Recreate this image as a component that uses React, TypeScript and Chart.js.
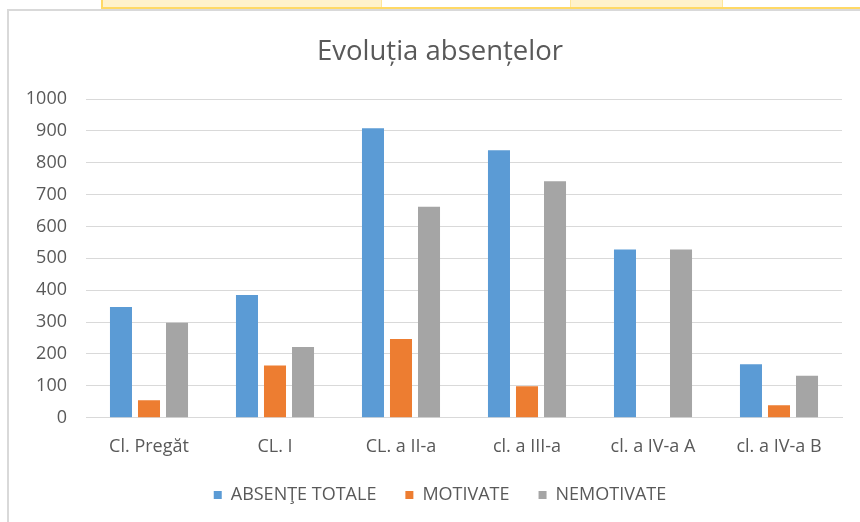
import React, { useEffect, useRef } from "react";
import { Chart, registerables } from "chart.js";

Chart.register(...registerables);

const titleText = "Evoluția absențelor";
const categories = ["Cl. Pregăt", "CL. I", "CL. a II-a", "cl. a III-a", "cl. a IV-a A", "cl. a IV-a B"];
const seriesNames = ["ABSENŢE TOTALE", "MOTIVATE", "NEMOTIVATE"];
const absenteTotale = [347, 385, 908, 839, 528, 168];
const motivate = [55, 164, 247, 99, 0, 39];
const nemotivate = [298, 222, 662, 742, 528, 132];
const seriesColors = ["#5B9BD5", "#ED7D31", "#A5A5A5"];
const yMin = 0;
const yMax = 1000;
const yStep = 100;

const FONT = "'Open Sans', 'Noto Sans', sans-serif";
const TEXT = "#595959";

export default function App() {
  const ref = useRef<HTMLCanvasElement | null>(null);

  useEffect(() => {
    if (!ref.current) return;
    const values = [absenteTotale, motivate, nemotivate];
    const chart = new Chart(ref.current, {
      type: "bar",
      data: {
        labels: categories,
        datasets: values.map((v, i) => ({
          label: seriesNames[i],
          data: v,
          backgroundColor: seriesColors[i],
          borderWidth: 0,
          categoryPercentage: 0.667,
          barPercentage: 0.786,
        })),
      },
      options: {
        responsive: false,
        animation: false,
        maintainAspectRatio: false,
        layout: { padding: { left: 0, right: 0, top: 0, bottom: 8 } },
        plugins: {
          title: {
            display: true,
            text: titleText,
            color: TEXT,
            font: { family: FONT, size: 27.5, weight: "normal", lineHeight: 1.2 },
            padding: { top: 24.5, bottom: 30.5 },
          },
          legend: {
            display: true,
            position: "bottom",
            labels: {
              color: TEXT,
              font: { family: FONT, size: 18, lineHeight: 1.2 },
              boxWidth: 8,
              boxHeight: 8,
              padding: 29,
            },
          },
          tooltip: { enabled: false },
        },
        scales: {
          x: {
            grid: { display: false, drawTicks: false },
            border: { display: true, color: "#D9D9D9", width: 1 },
            ticks: {
              color: TEXT,
              font: { family: FONT, size: 18, lineHeight: 1.2 },
              padding: 18.5,
              maxRotation: 0,
              autoSkip: false,
            },
            afterFit: (s: any) => {
              s.height = 39.3;
            },
          },
          y: {
            min: yMin,
            max: yMax,
            grid: { color: "#D9D9D9", lineWidth: 1, drawTicks: false },
            border: { display: false },
            ticks: {
              stepSize: yStep,
              color: TEXT,
              font: { family: FONT, size: 18, lineHeight: 1.2 },
              padding: 19,
              callback: (v: any) => String(v),
            },
            afterFit: (s: any) => {
              s.width = 77;
            },
          },
          yRight: {
            position: "right",
            display: true,
            grid: { display: false, drawTicks: false },
            border: { display: false },
            ticks: { display: false },
            afterFit: (s: any) => {
              s.width = 29;
            },
          },
        },
      },
    } as any);
    return () => chart.destroy();
  }, []);

  return (
    <div
      style={{
        position: "fixed",
        left: 0,
        top: 0,
        width: 860,
        height: 522,
        overflow: "hidden",
        background: "#ffffff",
      }}
    >
      <div style={{ position: "absolute", left: 101, top: 0, width: 280, height: 8, background: "#FFF2CC" }} />
      <div style={{ position: "absolute", left: 570, top: 0, width: 152, height: 8, background: "#FFF2CC" }} />
      <div style={{ position: "absolute", left: 101, top: 0, width: 2, height: 9, background: "#FFD966" }} />
      <div style={{ position: "absolute", left: 381, top: 0, width: 1, height: 9, background: "#FFE699" }} />
      <div style={{ position: "absolute", left: 570, top: 0, width: 1, height: 9, background: "#FFE699" }} />
      <div style={{ position: "absolute", left: 722, top: 0, width: 1, height: 9, background: "#FFE699" }} />
      <div
        style={{
          position: "absolute",
          left: 7,
          top: 9,
          width: 900,
          height: 600,
          borderLeft: "2px solid #D9D9D9",
          borderTop: "2px solid #D9D9D9",
        }}
      />
      <div style={{ position: "absolute", left: 101, top: 7, width: 759, height: 2, background: "#FFD966" }} />
      <canvas
        ref={ref}
        width={862}
        height={511}
        style={{ position: "absolute", left: 9, top: 11, width: 862, height: 511, display: "block" }}
      />
    </div>
  );
}
